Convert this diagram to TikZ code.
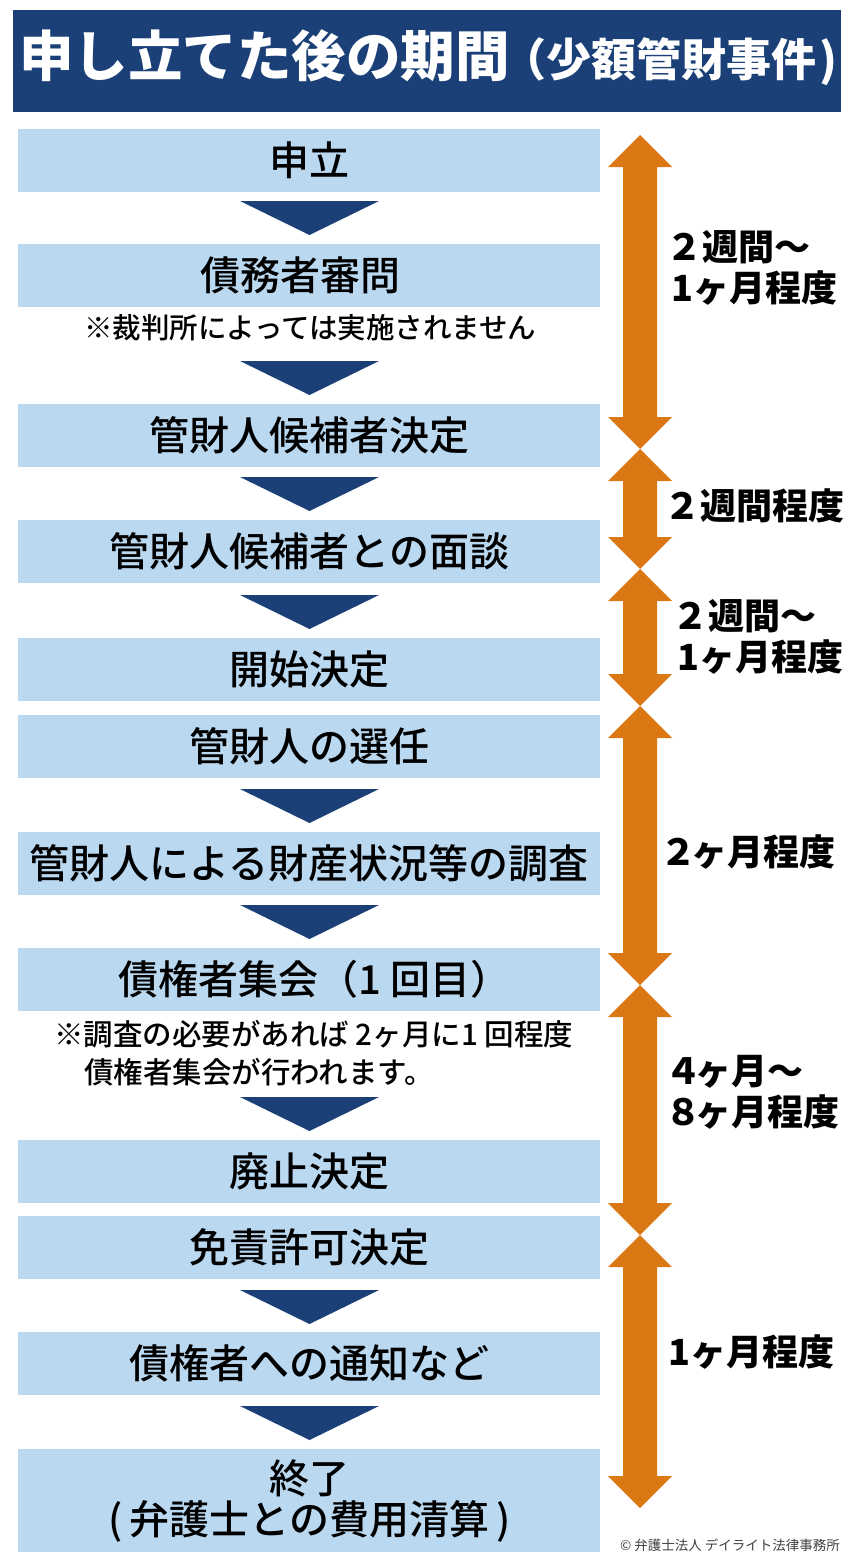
\documentclass[tikz,border=0pt]{standalone}
\usepackage{fontspec}
\setmainfont{Noto Sans CJK JP}
\newfontfamily\medfont{Noto Sans CJK JP Medium}
\definecolor{navy}{HTML}{1B4078}
\definecolor{pale}{HTML}{BAD8F0}
\definecolor{amber}{HTML}{DC7814}
\newcommand{\dtri}[1]{\fill[navy] (240,#1) -- (379,#1) -- (309.5,#1+34) -- cycle;}
\newcommand{\darrow}[2]{\fill[amber] (640,#1) -- (672,#1+32) -- (657,#1+32) -- (657,#2-32) -- (672,#2-32) -- (640,#2) -- (608,#2-32) -- (623,#2-32) -- (623,#1+32) -- (608,#1+32) -- cycle;}
\tikzset{
  flowbox/.style={fill=pale,inner sep=0pt,minimum width=582pt,minimum height=63pt,anchor=north west,align=center,font=\medfont\fontsize{40}{41}\selectfont},
  notetext/.style={inner sep=0pt,anchor=west,align=left,font=\medfont\fontsize{28.5}{38}\selectfont},
  spanlabel/.style={inner sep=0pt,anchor=west,align=left,font=\bfseries\fontsize{36}{41}\selectfont}
}
\begin{document}
\begin{tikzpicture}[x=1pt,y=-1pt]
\useasboundingbox (0,0) rectangle (850,1568);
\node[fill=navy,inner sep=0pt,minimum width=828pt,minimum height=102pt,anchor=north west] (title) at (13,10) {};
\node[inner sep=0pt,anchor=west,text=white,font=\bfseries] (titletext) at (19,58) {\fontsize{54.5}{60}\selectfont 申し立てた後の期間\hspace{-8pt}\fontsize{45}{50}\selectfont （少額管財事件\hspace{3pt})};
\node[flowbox] (a) at (18,129) {申立};
\node[flowbox] (b) at (18,244) {債務者審問\hspace*{18pt}};
\node[flowbox] (c) at (18,404) {管財人候補者決定};
\node[flowbox] (d) at (18,520) {\raisebox{-2pt}{管財人候補者との面談}};
\node[flowbox] (e) at (18,638) {開始決定};
\node[flowbox] (f) at (18,715) {管財人の選任};
\node[flowbox] (g) at (18,832) {管財人による財産状況等の調査};
\node[flowbox] (h) at (18,948) {\hspace*{10pt}債権者集会（1 回目）};
\node[flowbox] (i) at (18,1140) {廃止決定};
\node[flowbox] (j) at (18,1216) {免責許可決定};
\node[flowbox] (k) at (18,1332) {債権者への通知など};
\node[flowbox,minimum height=103pt] (l) at (18,1449) {\raisebox{-3pt}{終了}\\\raisebox{-3pt}{(\hspace{7pt}弁護士との費用清算\hspace{7pt})}};
\dtri{201}\dtri{361}\dtri{477}\dtri{595}\dtri{789}\dtri{905}\dtri{1097}\dtri{1290}\dtri{1406}
\node[notetext] (n1) at (84,328) {※裁判所によっては実施されません};
\node[notetext,anchor=north west,font=\medfont\fontsize{29.5}{38}\selectfont] (n2) at (54,1020) {※調査の必要があれば 2ヶ月に1 回程度\\\hspace*{30pt}債権者集会が行われます。};
\darrow{135}{449}\darrow{449}{569}\darrow{569}{706}\darrow{706}{985}\darrow{985}{1235}\darrow{1235}{1508}
\node[spanlabel] (s1) at (671,268) {\hspace*{-5pt}２週間〜\\1ヶ月程度};
\node[spanlabel] (s2) at (664,506) {２週間程度};
\node[spanlabel] (s3) at (677,637) {\hspace*{-5pt}２週間〜\\1ヶ月程度};
\node[spanlabel] (s4) at (660,852) {２\hspace{-5pt}ヶ月程度};
\node[spanlabel] (s5) at (665,1092) {４\hspace{-6pt}ヶ月〜\\８\hspace{-6pt}ヶ月程度};
\node[spanlabel] (s6) at (668,1352) {1ヶ月程度};
\node[inner sep=0pt,anchor=east,text=black!75,font=\fontsize{13.5}{15}\selectfont] (copy) at (840,1545) {© 弁護士法人 デイライト法律事務所};
\end{tikzpicture}
\end{document}
